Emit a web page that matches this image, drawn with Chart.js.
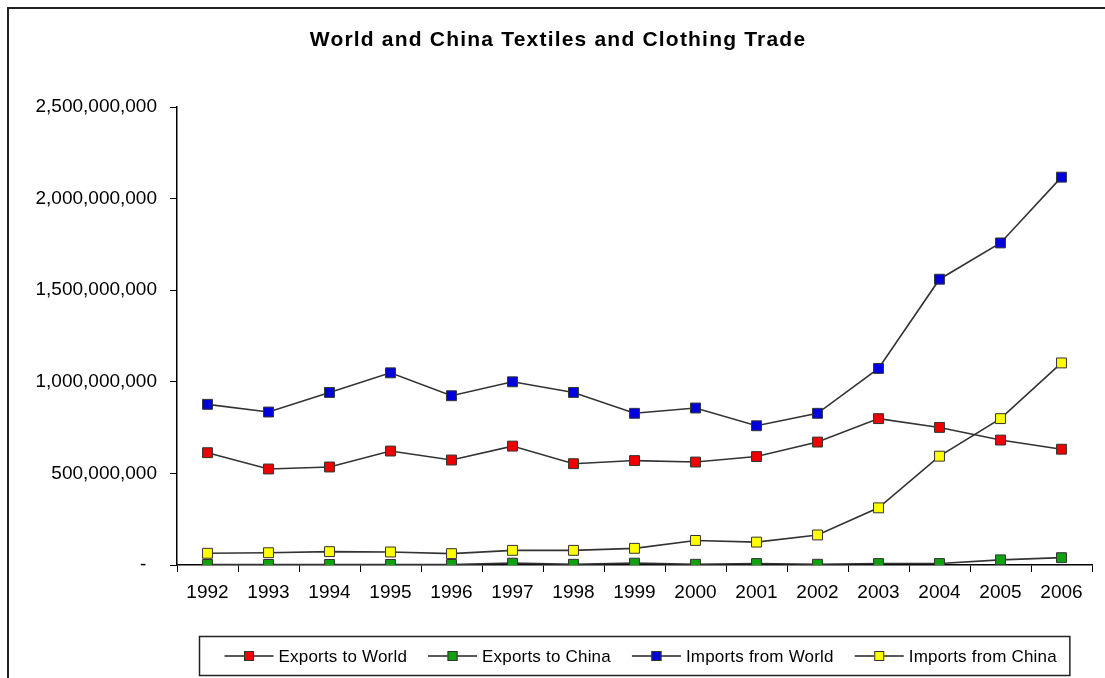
<!DOCTYPE html>
<html>
<head>
<meta charset="utf-8">
<script src="https://cdn.jsdelivr.net/npm/chart.js@4.4.1/dist/chart.umd.min.js"></script>
<style>
  html, body { margin: 0; padding: 0; background: #fff; }
  #wrap { width: 1105px; height: 678px; position: relative; overflow: hidden; }
</style>
</head>
<body>
<div id="wrap"><canvas id="chart" width="1105" height="678"></canvas></div>
<script>
// values in millions
const years = ['1992', '1993', '1994', '1995', '1996', '1997', '1998', '1999',
  '2000', '2001', '2002', '2003', '2004', '2005', '2006'];
const exportsWorld = [613, 524, 535, 622, 573, 649, 553, 570, 562, 592, 671, 799, 751, 682, 632];
const exportsChina = [3, 3, 3, 3, 3, 10, 4, 10, 4, 8, 4, 8, 8, 28, 40];
const importsWorld = [877, 835, 942, 1049, 924, 1000, 942, 828, 857, 760, 828, 1073, 1560, 1758, 2117];
const importsChina = [64, 67, 73, 71, 62, 80, 80, 91, 134, 125, 164, 312, 594, 799, 1103];
const yTicks = [0, 500000000, 1000000000, 1500000000, 2000000000, 2500000000];

const TITLE = 'World and China Textiles and Clothing Trade';
const FONT = '"Liberation Sans", Arial, sans-serif';

function mil(arr) { return arr.map(v => v * 1000000); }

function series(label, values, fill) {
  return {
    label: label,
    data: mil(values),
    borderColor: '#333',
    borderWidth: 1.6,
    pointStyle: 'rect',
    pointRadius: 7,
    pointHoverRadius: 7,
    pointBackgroundColor: fill,
    pointBorderColor: '#333',
    pointBorderWidth: 1,
    tension: 0,
    fill: false
  };
}

const decor = {
  id: 'decor',
  beforeDraw(chart) {
    const ctx = chart.ctx;
    ctx.save();
    ctx.fillStyle = '#fff';
    ctx.fillRect(0, 0, chart.width, chart.height);
    ctx.restore();
  },
  afterDraw(chart) {
    const ctx = chart.ctx;
    const area = chart.chartArea;
    ctx.save();
    // outer frame (cut off at right and bottom, like the reference)
    ctx.strokeStyle = '#222';
    ctx.lineWidth = 2;
    ctx.strokeRect(8, 8, 1200, 800);

    // title
    ctx.fillStyle = '#000';
    ctx.font = 'bold 21px ' + FONT;
    ctx.letterSpacing = '1.2px';
    ctx.textAlign = 'center';
    ctx.textBaseline = 'alphabetic';
    ctx.fillText(TITLE, 558, 46);

    // legend: line + square marker + text, inside a box
    ctx.font = '17px ' + FONT;
    ctx.letterSpacing = '0.2px';
    const items = chart.data.datasets.map(ds => ({ label: ds.label, color: ds.pointBackgroundColor }));
    const lineLen = 49, textGap = 5, itemGap = 21, padL = 25, padR = 13;
    const widths = items.map(it => ctx.measureText(it.label).width);
    let total = padL + padR + itemGap * (items.length - 1);
    widths.forEach(w => { total += lineLen + textGap + w; });
    const cx = (area.left + area.right) / 2;
    const boxX = Math.round(cx - total / 2) + 0.5;
    const boxY = 636.5, boxH = 39, cy = 656;
    ctx.strokeStyle = '#222';
    ctx.lineWidth = 1.5;
    ctx.strokeRect(boxX, boxY, total, boxH);

    let x = boxX + padL;
    ctx.textAlign = 'left';
    ctx.textBaseline = 'middle';
    items.forEach((it, i) => {
      ctx.strokeStyle = '#222';
      ctx.lineWidth = 1.6;
      ctx.beginPath();
      ctx.moveTo(x, cy);
      ctx.lineTo(x + lineLen, cy);
      ctx.stroke();
      ctx.fillStyle = it.color;
      ctx.fillRect(x + lineLen / 2 - 5, cy - 5, 10, 10);
      ctx.strokeStyle = '#333';
      ctx.lineWidth = 1;
      ctx.strokeRect(x + lineLen / 2 - 5 + 0.5, cy - 5 + 0.5, 9, 9);
      ctx.fillStyle = '#000';
      ctx.fillText(it.label, x + lineLen + textGap, cy + 1);
      x += lineLen + textGap + widths[i] + itemGap;
    });
    ctx.restore();
  }
};

new Chart(document.getElementById('chart'), {
  type: 'line',
  data: {
    labels: years,
    datasets: [
      series('Exports to World', exportsWorld, '#ee0000'),
      series('Exports to China', exportsChina, '#10a010'),
      series('Imports from World', importsWorld, '#0000dd'),
      series('Imports from China', importsChina, '#ffff00')
    ]
  },
  options: {
    responsive: false,
    animation: false,
    events: [],
    layout: { padding: { left: 0, top: 107, right: 13, bottom: 63 } },
    plugins: {
      legend: { display: false },
      title: { display: false },
      tooltip: { enabled: false }
    },
    scales: {
      x: {
        offset: true,
        grid: { display: true, offset: true, drawOnChartArea: false, drawTicks: true, tickLength: 7, color: '#000', lineWidth: 1 },
        border: { display: true, color: '#000', width: 1.5 },
        ticks: { color: '#000', font: { family: FONT, size: 19 }, padding: 9, maxRotation: 0, autoSkip: false },
        afterFit(scale) { scale.height = 50; }
      },
      y: {
        min: 0,
        max: 2500000000,
        afterBuildTicks(scale) { scale.ticks = yTicks.map(v => ({ value: v })); },
        grid: { display: true, drawOnChartArea: false, drawTicks: true, tickLength: 7, color: '#000', lineWidth: 1 },
        border: { display: true, color: '#000', width: 1.5 },
        ticks: {
          color: '#000',
          font: { family: FONT, size: 19 },
          padding: 13,
          callback: v => v === 0 ? '-  ' : Number(v).toLocaleString('en-US')
        },
        afterFit(scale) { scale.width = 177; }
      }
    }
  },
  plugins: [decor]
});
</script>
</body>
</html>
